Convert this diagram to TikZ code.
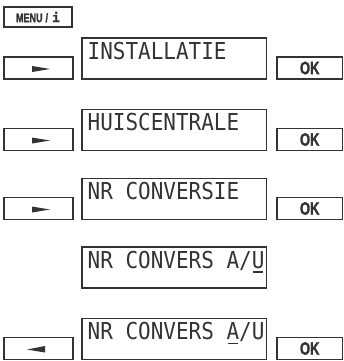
\documentclass[tikz,border=0pt]{standalone}
\usepackage{fontspec}
\setmainfont{Liberation Sans}
\newfontfamily\lcdfont[FakeStretch=0.9]{DejaVu Sans Mono}
\newfontfamily\btnfont[FakeStretch=0.72,FakeBold=1.5]{Liberation Sans Bold}
\newfontfamily\keymono[FakeBold=1]{DejaVu Sans Mono Bold}
\usetikzlibrary{calc}
\definecolor{ink}{HTML}{333333}
\newcommand\lcdul[1]{\setbox0\hbox{#1}\rlap{\kern1.5pt\rule[-4.3pt]{\dimexpr\wd0-3pt\relax}{1.3pt}}\box0}
\begin{document}
\begin{tikzpicture}[x=1pt,y=-1pt,
  box/.style={draw=ink, line width=1.1pt, inner sep=0pt},
  disp/.style={box, minimum width=184.5pt, minimum height=41pt},
  key/.style={box, minimum width=69pt, minimum height=22pt},
  okkey/.style={box, minimum width=65.5pt, minimum height=22pt,
    font=\btnfont\fontsize{18}{18}\selectfont, text=ink},
  menukey/.style={box, minimum width=68pt, minimum height=20pt,
    font=\btnfont\fontsize{12.5}{13}\selectfont, text=ink},
  lcd/.style={anchor=base west, inner sep=0pt,
    font=\lcdfont\fontsize{23.3}{24}\selectfont, text=ink},
  tri/.style={fill=ink}]
\useasboundingbox (0,0) rectangle (344,361);

% menu key
\node[menukey] (menu) at (38,17) {MENU\hspace{3pt}/\hspace{4pt}{\keymono\fontsize{13}{13}\selectfont i}};

% displays
\node[disp] (d1) at (174.25,58.5) {};
\node[disp] (d2) at (174.25,130) {};
\node[disp] (d3) at (174.25,199) {};
\node[disp] (d4) at (174.25,267.5) {};
\node[disp] (d5) at (174.25,339) {};

\node[lcd] (t1) at ($(d1.north west)+(6,22)$) {INSTALLATIE};
\node[lcd] (t2) at ($(d2.north west)+(6,22)$) {HUISCENTRALE};
\node[lcd] (t3) at ($(d3.north west)+(6,22)$) {NR CONVERSIE};
\node[lcd] (t4) at ($(d4.north west)+(6,22)$) {NR CONVERS A/\lcdul{U}};
\node[lcd] (t5) at ($(d5.north west)+(6,22)$) {NR CONVERS \lcdul{A}/U};

% left keys
\node[key] (k1) at (38.5,68) {};
\node[key] (k2) at (38.5,139.5) {};
\node[key] (k3) at (38.5,208.5) {};
\node[key] (k5) at (38.5,348.5) {};

% OK keys
\node[okkey] (ok1) at (309.75,68) {OK};
\node[okkey] (ok2) at (309.75,139.5) {OK};
\node[okkey] (ok3) at (309.75,208.5) {OK};
\node[okkey] (ok5) at (309.75,348.5) {OK};

% arrow glyphs
\foreach \k in {k1,k2,k3}{
  \fill[tri] ($(\k.center)+(-6.5,-2)$) -- ($(\k.center)+(-6.5,4)$) -- ($(\k.center)+(11.5,1)$) -- cycle;
}
\fill[tri] ($(k5.center)+(6.5,-2.5)$) -- ($(k5.center)+(6.5,4)$) -- ($(k5.center)+(-11.5,1)$) -- cycle;
\end{tikzpicture}
\end{document}
